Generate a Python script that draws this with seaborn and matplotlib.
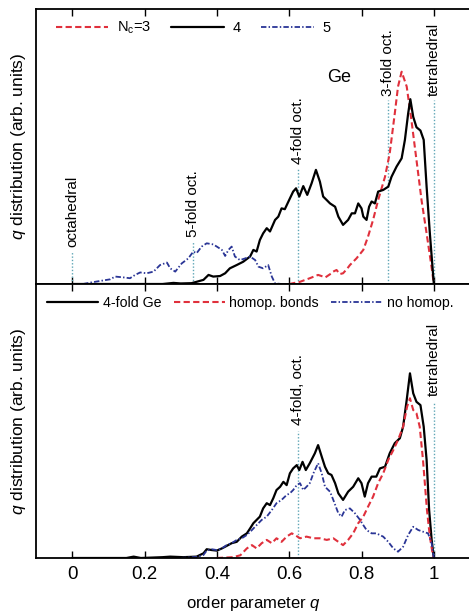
import matplotlib
matplotlib.use("Agg")
import matplotlib.pyplot as plt
import seaborn as sns
import numpy as np

sns.set_theme(style="white")
plt.rcParams["font.family"] = ["Liberation Sans", "DejaVu Sans"]
plt.rcParams["mathtext.fontset"] = "custom"
plt.rcParams["mathtext.rm"] = "Liberation Sans"
plt.rcParams["mathtext.it"] = "Liberation Sans:italic"
plt.rcParams["text.color"] = "black"
plt.rcParams["axes.labelcolor"] = "black"
plt.rcParams["xtick.color"] = "black"
plt.rcParams["ytick.color"] = "black"

# ---- upper panel: Ge atoms by coordination number ----
q_nc4 = [0.0, 0.25, 0.28, 0.30, 0.33, 0.344, 0.363, 0.377, 0.390, 0.409, 0.423, 0.436, 0.455,
         0.473, 0.492, 0.501, 0.510, 0.519, 0.528, 0.538, 0.547, 0.561, 0.570, 0.579, 0.588,
         0.598, 0.611, 0.619, 0.628, 0.639, 0.650, 0.662, 0.674, 0.685, 0.694, 0.704, 0.713,
         0.727, 0.736, 0.749, 0.763, 0.773, 0.782, 0.791, 0.800, 0.805, 0.814, 0.821, 0.828,
         0.837, 0.846, 0.860, 0.874, 0.883, 0.897, 0.911, 0.920, 0.929, 0.935, 0.943, 0.952,
         0.963, 0.972, 0.980, 0.989, 1.0]
d_nc4 = [0, 0, 0.4, 0.2, 0.3, 0.8, 1.5, 3.3, 2.7, 2.9, 3.9, 5.7, 6.9,
         8.1, 10.0, 12.4, 11.8, 16.0, 18.4, 20.3, 19.1, 23.3, 24.5, 27.5, 27.2,
         30.0, 33.6, 34.8, 31.8, 35.6, 32.4, 36.6, 41.5, 37.2, 31.8, 30.5, 29.3,
         28.1, 24.5, 21.5, 23.3, 25.7, 25.7, 29.3, 27.5, 24.5, 23.3, 28.1, 30.0,
         29.3, 33.6, 34.2, 35.4, 39.0, 42.7, 45.7, 52.4, 62.0, 67.2, 60.8, 57.0,
         55.8, 52.4, 35.4, 18.4, 0.0]

q_nc3 = [0.60, 0.63, 0.657, 0.68, 0.694, 0.70, 0.717, 0.72, 0.731, 0.74, 0.749, 0.76, 0.768,
         0.786, 0.805, 0.818, 0.832, 0.846, 0.865, 0.878, 0.892, 0.901, 0.911, 0.925, 0.938,
         0.952, 0.966, 0.980, 0.994, 1.0]
d_nc3 = [0, 0.8, 2.1, 3.3, 2.7, 2.4, 3.9, 4.4, 5.1, 3.6, 3.9, 5.5, 6.9,
         9.3, 12.4, 17.2, 23.3, 30.5, 39.0, 47.5, 62.0, 71.8, 77.2, 71.8, 59.6,
         45.1, 30.5, 18.4, 5.9, 0.0]

q_nc5 = [0.03, 0.054, 0.077, 0.105, 0.119, 0.142, 0.160, 0.174, 0.188, 0.206, 0.225, 0.243,
         0.262, 0.271, 0.285, 0.303, 0.321, 0.335, 0.344, 0.358, 0.372, 0.390, 0.400, 0.414,
         0.423, 0.432, 0.441, 0.450, 0.464, 0.478, 0.492, 0.506, 0.515, 0.528, 0.542, 0.552,
         0.561, 0.58]
d_nc5 = [0, 0.6, 1.1, 1.7, 2.7, 2.4, 2.1, 3.3, 4.2, 3.9, 4.5, 6.9,
         7.8, 5.7, 4.5, 7.5, 9.3, 11.8, 11.2, 13.6, 14.8, 14.4, 13.6, 12.4,
         10.2, 12.4, 13.6, 10.0, 8.7, 9.3, 10.0, 8.7, 6.3, 5.7, 6.9, 2.7,
         0.2, 0]

# ---- lower panel: 4-fold Ge with / without homopolar bonds ----
q_4f = [0.0, 0.15, 0.17, 0.19, 0.25, 0.271, 0.307, 0.344, 0.363, 0.372, 0.386, 0.400, 0.414,
        0.427, 0.441, 0.455, 0.469, 0.483, 0.492, 0.501, 0.510, 0.519, 0.528, 0.538, 0.547,
        0.556, 0.565, 0.575, 0.584, 0.593, 0.602, 0.611, 0.621, 0.628, 0.637, 0.646, 0.657,
        0.671, 0.680, 0.690, 0.699, 0.708, 0.717, 0.727, 0.736, 0.749, 0.763, 0.777, 0.791,
        0.800, 0.809, 0.818, 0.828, 0.841, 0.851, 0.865, 0.878, 0.892, 0.906, 0.915, 0.925,
        0.934, 0.943, 0.952, 0.963, 0.972, 0.980, 0.987, 0.994, 1.0]
d_4f = [0, 0, 0.5, 0, 0.3, 0.5, 0.3, 0.5, 1.7, 3.2, 2.9, 2.7, 3.5,
        4.4, 5.4, 5.9, 7.8, 9.0, 10.8, 12.7, 13.9, 15.1, 18.1, 20.0, 19.3,
        21.8, 24.8, 26.0, 27.8, 26.6, 30.9, 32.7, 33.9, 32.1, 35.1, 32.1, 34.6,
        38.2, 41.2, 37.0, 33.3, 30.9, 30.3, 27.3, 23.6, 21.2, 24.2, 26.0, 29.1,
        27.3, 22.4, 27.3, 29.7, 29.7, 32.7, 33.3, 38.2, 41.9, 43.7, 47.9, 57.7,
        67.4, 60.1, 57.0, 55.8, 47.9, 35.8, 17.5, 6.6, 0.0]

q_homo = [0.40, 0.445, 0.465, 0.483, 0.497, 0.510, 0.524, 0.538, 0.552, 0.565, 0.579, 0.593,
          0.607, 0.616, 0.630, 0.648, 0.667, 0.685, 0.704, 0.722, 0.736, 0.749, 0.763, 0.777,
          0.791, 0.805, 0.818, 0.832, 0.846, 0.860, 0.874, 0.888, 0.901, 0.915, 0.926, 0.934,
          0.943, 0.952, 0.961, 0.970, 0.981, 0.989, 0.998]
d_homo = [0, 0.3, 1.0, 3.5, 4.7, 3.5, 5.4, 6.6, 5.4, 7.2, 5.9, 7.8,
          9.0, 8.4, 7.2, 7.8, 7.2, 7.2, 6.6, 7.2, 5.9, 4.7, 6.6, 9.0,
          12.7, 15.1, 18.7, 22.4, 27.3, 30.9, 35.8, 39.4, 43.1, 47.9, 55.2, 58.3,
          54.0, 52.8, 47.9, 35.8, 17.5, 7.8, 0.5]

q_nohomo = [0.30, 0.345, 0.363, 0.372, 0.386, 0.400, 0.414, 0.427, 0.441, 0.455, 0.469, 0.483,
            0.497, 0.510, 0.524, 0.538, 0.552, 0.565, 0.579, 0.593, 0.602, 0.611, 0.621, 0.630,
            0.639, 0.648, 0.657, 0.667, 0.680, 0.690, 0.699, 0.713, 0.722, 0.736, 0.745, 0.754,
            0.768, 0.782, 0.796, 0.805, 0.814, 0.828, 0.841, 0.860, 0.874, 0.888, 0.901, 0.915,
            0.929, 0.943, 0.957, 0.970, 0.984, 0.994, 1.0]
d_nohomo = [0, 0.4, 1.1, 2.7, 3.2, 2.9, 3.5, 4.7, 5.4, 6.6, 7.2, 8.4,
            10.2, 12.0, 13.9, 15.1, 17.5, 20.0, 21.2, 23.0, 23.6, 24.8, 26.6, 27.3,
            24.8, 26.0, 27.3, 30.9, 34.6, 30.9, 26.0, 24.2, 21.2, 16.3, 15.1, 17.5,
            18.1, 16.3, 13.9, 12.0, 10.2, 9.0, 9.0, 7.8, 5.9, 3.5, 2.3, 4.1,
            8.4, 11.4, 10.2, 9.6, 9.0, 5.4, 0.0]

# reference geometries: (q, label, line top, label bottom)
ref_top = [(0.0, "octahedral", 12, 13.5),
           (0.334, "5-fold oct.", 15.5, 17),
           (0.625, "4-fold oct.", 42, 43.5),
           (0.874, "3-fold oct.", 67, 68.5),
           (1.0, "tetrahedral", 67, 68.5)]
ref_bot = [(0.625, "4-fold, oct.", 46.5, 48.5),
           (1.0, "tetrahedral", 57, 59)]

xticks = [0, 0.2, 0.4, 0.6, 0.8, 1.0]
xticklabels = ["0", "0.2", "0.4", "0.6", "0.8", "1"]

RED = "#e0303c"
BLUE = "#2a3596"
DOT = "#5fa6b6"

fig = plt.figure(figsize=(4.69, 6.16), dpi=100)
left, width = 36 / 469, (470 - 36) / 469
ax1 = fig.add_axes([left, 1 - 284 / 616, width, (284 - 9) / 616])
ax2 = fig.add_axes([left, 1 - 558 / 616, width, (558 - 284) / 616])

red_dash = (0, (3.0, 1.6))
dash_dot = (0, (3.0, 1.2, 0.8, 1.2))

sns.lineplot(x=q_nc3, y=d_nc3, ax=ax1, color=RED, linestyle=red_dash, lw=1.5,
             label="N$_{\\mathrm{c}}$=3", sort=False)
sns.lineplot(x=q_nc4, y=d_nc4, ax=ax1, color="black", lw=1.6, label="4", sort=False)
sns.lineplot(x=q_nc5, y=d_nc5, ax=ax1, color=BLUE, linestyle=dash_dot, lw=1.3,
             label="5", sort=False)

sns.lineplot(x=q_4f, y=d_4f, ax=ax2, color="black", lw=1.6, label="4-fold Ge", sort=False)
sns.lineplot(x=q_homo, y=d_homo, ax=ax2, color=RED, linestyle=red_dash, lw=1.5,
             label="homop. bonds", sort=False)
sns.lineplot(x=q_nohomo, y=d_nohomo, ax=ax2, color=BLUE, linestyle=dash_dot, lw=1.3,
             label="no homop.", sort=False)

for ax, refs in ((ax1, ref_top), (ax2, ref_bot)):
    for qv, lab, ytop, ylab in refs:
        ax.plot([qv, qv], [0, ytop], color=DOT, lw=1.0, linestyle=(0, (1, 1.4)), zorder=1)
        ax.text(qv, ylab, lab, rotation=90, ha="center", va="bottom", fontsize=11)

ax1.text(0.705, 75, "Ge", fontsize=13, ha="left", va="center")

for ax in (ax1, ax2):
    ax.set_xlim(-0.1, 1.1)
    ax.set_ylim(0, 100)
    ax.set_yticks([])
    ax.set_xticks(xticks)
    ax.tick_params(axis="x", direction="in", length=5, width=1.0, top=True,
                   bottom=True, color="black", labelsize=13.5, pad=6)
    for s in ax.spines.values():
        s.set_color("black")
        s.set_linewidth(1.3)
    ax.spines["right"].set_visible(False)
    ax.set_ylabel("$q$ distribution (arb. units)", fontsize=12.5, labelpad=6)

ax1.set_xticklabels([])
ax1.set_xlabel("")
ax2.set_xticklabels(xticklabels)
ax2.set_xlabel("order parameter $q$", fontsize=12, labelpad=8)

ax1.legend(loc="center left", bbox_to_anchor=(0.045, 0.931), ncol=3, frameon=False,
           fontsize=10.5, handlelength=3.6, handletextpad=0.6, columnspacing=1.4,
           borderpad=0, borderaxespad=0)
ax2.legend(loc="center left", bbox_to_anchor=(0.026, 0.931), ncol=3, frameon=False,
           fontsize=10.2, handlelength=3.6, handletextpad=0.3, columnspacing=0.9,
           borderpad=0, borderaxespad=0)

fig.savefig("out.png", dpi=100)
